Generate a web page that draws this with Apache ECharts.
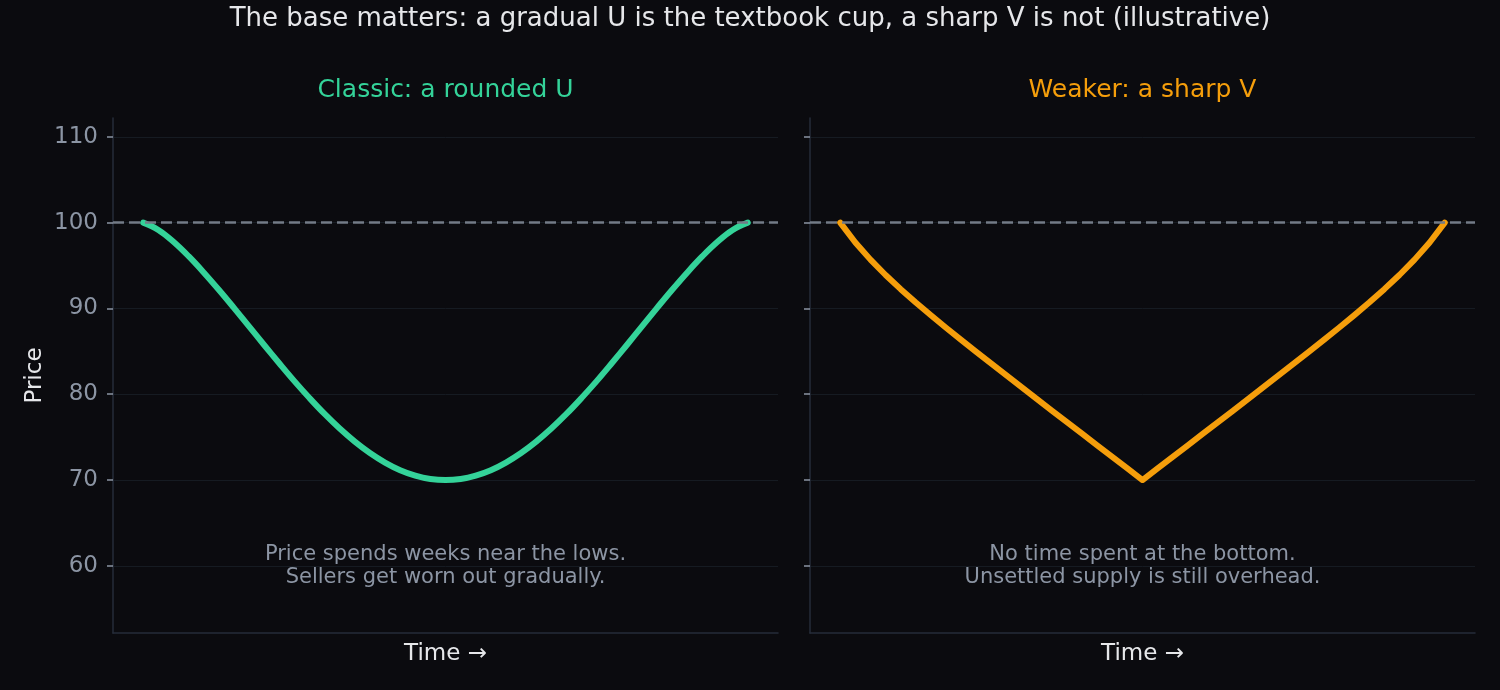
<!DOCTYPE html>
<html>
<head>
    <meta charset="utf-8">
    <title>U base vs V base</title>
    <script src="https://cdn.jsdelivr.net/npm/echarts@6.0.0/dist/echarts.min.js"></script>
    <style>
        html, body { margin: 0; padding: 0; background: #0b0b0f; }
        #chart { width: 1500px; height: 690px; }
    </style>
</head>
<body>
<div id="chart"></div>
<script type="text/javascript">
    // time runs 0..1 across each cup, read every 0.025
    var timeSteps = [0, 0.025, 0.05, 0.075, 0.1, 0.125, 0.15, 0.175, 0.2, 0.225,
        0.25, 0.275, 0.3, 0.325, 0.35, 0.375, 0.4, 0.425, 0.45, 0.475,
        0.5, 0.525, 0.55, 0.575, 0.6, 0.625, 0.65, 0.675, 0.7, 0.725,
        0.75, 0.775, 0.8, 0.825, 0.85, 0.875, 0.9, 0.925, 0.95, 0.975, 1];

    // rounded U
    var uPrice = [100, 99.15, 97.77, 96.09, 94.20, 92.18, 90.07, 87.91, 85.74, 83.61,
        81.53, 79.56, 77.70, 76.00, 74.48, 73.15, 72.04, 71.15, 70.52, 70.13,
        70.00, 70.13, 70.52, 71.15, 72.04, 73.15, 74.48, 76.00, 77.70, 79.56,
        81.53, 83.61, 85.74, 87.91, 90.07, 92.18, 94.20, 96.09, 97.77, 99.15, 100];

    // sharp V
    var vPrice = [100, 97.69, 95.69, 93.90, 92.25, 90.69, 89.20, 87.75, 86.34, 84.94,
        83.56, 82.19, 80.83, 79.45, 78.10, 76.75, 75.40, 74.05, 72.70, 71.35,
        70.00, 71.35, 72.70, 74.05, 75.40, 76.75, 78.10, 79.45, 80.83, 82.19,
        83.56, 84.94, 86.34, 87.75, 89.20, 90.69, 92.25, 93.90, 95.69, 97.69, 100];

    var priceTicks = [60, 70, 80, 90, 100, 110];
    var rimLevel = 100;
    var noteX = 0.5;
    var noteY = 60;

    var panelTitles = ['Classic: a rounded U', 'Weaker: a sharp V'];
    var panelNotes = [
        'Price spends weeks near the lows.\nSellers get worn out gradually.',
        'No time spent at the bottom.\nUnsettled supply is still overhead.'
    ];

    var FONT = 'DejaVu Sans';
    var GREEN = '#34d399';
    var AMBER = '#f59e0b';
    var MUTED = '#8c95a4';
    var LIGHT = '#e6e7ea';
    var SPINE = '#262d3a';

    var gridLeft = [113, 810];
    var gridTop = 118;
    var gridW = 665;
    var gridH = 515;

    function pairs(xs, ys) {
        return xs.map(function (x, i) { return [x, ys[i]]; });
    }

    function xAxisFor(i) {
        return {
            type: 'value', gridIndex: i, min: -0.05, max: 1.05,
            name: 'Time \u2192', nameLocation: 'middle', nameGap: 10,
            nameTextStyle: { color: LIGHT, fontSize: 23, fontFamily: FONT },
            axisLine: { show: true, onZero: false, lineStyle: { color: SPINE, width: 1.5 } },
            axisTick: { show: false },
            axisLabel: { show: false },
            splitLine: { show: false }
        };
    }

    function yAxisFor(i) {
        return {
            type: 'value', gridIndex: i, min: 52.17, max: 112.2,
            name: i === 0 ? 'Price' : '', nameLocation: 'middle', nameGap: 66,
            nameTextStyle: { color: LIGHT, fontSize: 23, fontFamily: FONT },
            axisLine: { show: true, onZero: false, lineStyle: { color: SPINE, width: 1.5 } },
            axisTick: { show: true, length: 6, customValues: priceTicks,
                lineStyle: { color: MUTED, width: 1.5 } },
            axisLabel: { show: i === 0, customValues: priceTicks, margin: 15,
                color: MUTED, fontSize: 23, fontFamily: FONT },
            splitLine: { show: true, lineStyle: { color: '#161b22', width: 1 } }
        };
    }

    function rimSeries(i) {
        return {
            type: 'line', xAxisIndex: i, yAxisIndex: i, data: [], z: 1,
            markLine: {
                silent: true, symbol: 'none',
                label: { show: false },
                lineStyle: { color: '#737b87', width: 2.5, type: [11, 5] },
                data: [{ yAxis: rimLevel }]
            }
        };
    }

    function cupSeries(i, ys, color, smooth) {
        return {
            type: 'line', xAxisIndex: i, yAxisIndex: i, z: 3,
            data: pairs(timeSteps, ys),
            smooth: smooth, showSymbol: false,
            lineStyle: { color: color, width: 6, cap: 'round', join: 'round' },
            markPoint: {
                silent: true, symbol: 'circle', symbolSize: 0,
                label: {
                    show: true, position: 'inside', formatter: panelNotes[i],
                    color: MUTED, fontSize: 21, lineHeight: 23, fontFamily: FONT, align: 'center'
                },
                data: [{ coord: [noteX, noteY] }]
            }
        };
    }

    var graphics = [{
        type: 'text', x: 750, y: 19,
        style: { text: 'The base matters: a gradual U is the textbook cup, a sharp V is not (illustrative)',
            fill: LIGHT, fontSize: 26, fontFamily: FONT, align: 'center', verticalAlign: 'middle' }
    }];
    [GREEN, AMBER].forEach(function (c, i) {
        graphics.push({
            type: 'text', x: gridLeft[i] + gridW / 2, y: 90,
            style: { text: panelTitles[i], fill: c, fontSize: 25, fontFamily: FONT,
                align: 'center', verticalAlign: 'middle' }
        });
    });

    var chart = echarts.init(document.getElementById('chart'));
    chart.setOption({
        backgroundColor: '#0b0b0f',
        animation: false,
        textStyle: { fontFamily: FONT },
        graphic: graphics,
        grid: [
            { left: gridLeft[0], top: gridTop, width: gridW, height: gridH },
            { left: gridLeft[1], top: gridTop, width: gridW, height: gridH }
        ],
        xAxis: [xAxisFor(0), xAxisFor(1)],
        yAxis: [yAxisFor(0), yAxisFor(1)],
        series: [
            rimSeries(0),
            rimSeries(1),
            cupSeries(0, uPrice, GREEN, 0.4),
            cupSeries(1, vPrice, AMBER, false)
        ]
    });
</script>
</body>
</html>
